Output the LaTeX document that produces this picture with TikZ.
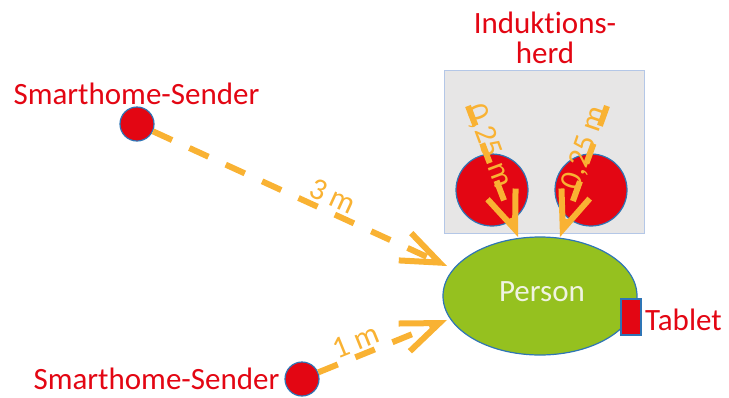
\documentclass[tikz,border=0pt]{standalone}
\usepackage{fontspec}
\setmainfont[Ligatures=NoCommon]{Carlito}
\usetikzlibrary{arrows.meta,shapes.geometric}
\definecolor{hred}{HTML}{E30613}
\definecolor{hblue}{HTML}{2E75B6}
\definecolor{horange}{HTML}{F9B233}
\definecolor{hgreen}{HTML}{95C11F}
\definecolor{hgray}{HTML}{E7E6E6}
\definecolor{hframe}{HTML}{B4C7E7}
\definecolor{hpale}{HTML}{F0F3E2}
\begin{document}
\begin{tikzpicture}[x=1pt,y=-1pt,
  dot/.style={circle,draw=hblue,line width=1.2pt,fill=hred,minimum size=34pt,inner sep=0pt},
  burner/.style={circle,draw=hblue,line width=1.2pt,fill=hred,minimum size=72pt,inner sep=0pt},
  redlabel/.style={text=hred,font=\fontsize{31}{34}\selectfont,inner sep=0pt},
  dist/.style={text=horange,font=\fontsize{31}{34}\selectfont,inner sep=0pt},
  ray/.style={draw=horange,line width=6pt,dash pattern=on 21pt off 19pt,
    -{Straight Barb[length=38pt,width=30pt]}}]
\useasboundingbox (0,0) rectangle (729,397);

% induction hob
\node[draw=hframe,line width=1pt,fill=hgray,minimum width=200pt,minimum height=163pt,
  inner sep=0pt] (hob) at (544,151.5) {};
\node[burner] (b1) at (492,190) {};
\node[burner] (b2) at (591,190) {};
\node[redlabel,anchor=base] (hobA) at (545,33) {Induktions-};
\node[redlabel,anchor=base] (hobB) at (545,63) {herd};

% person with tablet
\node[ellipse,draw=hblue,line width=1.2pt,fill=hgreen,minimum width=194pt,
  minimum height=118pt,inner sep=0pt] (person) at (540,296) {};
\node[text=hpale,font=\fontsize{31}{34}\selectfont,inner sep=0pt,anchor=base]
  (plabel) at (542,301) {Person};
\node[draw=hblue,line width=1.2pt,fill=hred,minimum width=20pt,minimum height=36pt,
  inner sep=0pt] (tablet) at (631,317) {};
\node[redlabel,anchor=base west] (tlabel) at (645,330) {Tablet};

% smarthome transmitters
\node[dot] (s1) at (137,124) {};
\node[redlabel,anchor=base] (s1label) at (136.5,104) {Smarthome-Sender};
\node[dot] (s2) at (302,379) {};
\node[redlabel,anchor=base] (s2label) at (156.5,389) {Smarthome-Sender};

% end points of the distance rays
\coordinate (t1) at (447,266);
\coordinate (t2) at (447,320);
\coordinate (r1) at (468,106);
\coordinate (t3) at (518,237);
\coordinate (r2) at (607,106);
\coordinate (t4) at (560,237);

\draw[ray] (s1) -- (t1);
\draw[ray] (s2) -- (t2);
\draw[ray] (r1) -- (t3);
\draw[ray] (r2) -- (t4);

\node[dist,rotate=-24.6] (d1) at (333,196) {3 m};
\node[dist,rotate=22] (d2) at (356,341) {1 m};
\node[dist,rotate=-69.6] (d3) at (489,146) {0,25 m};
\node[dist,rotate=71] (d4) at (585,148) {0,25 m};
\end{tikzpicture}
\end{document}
